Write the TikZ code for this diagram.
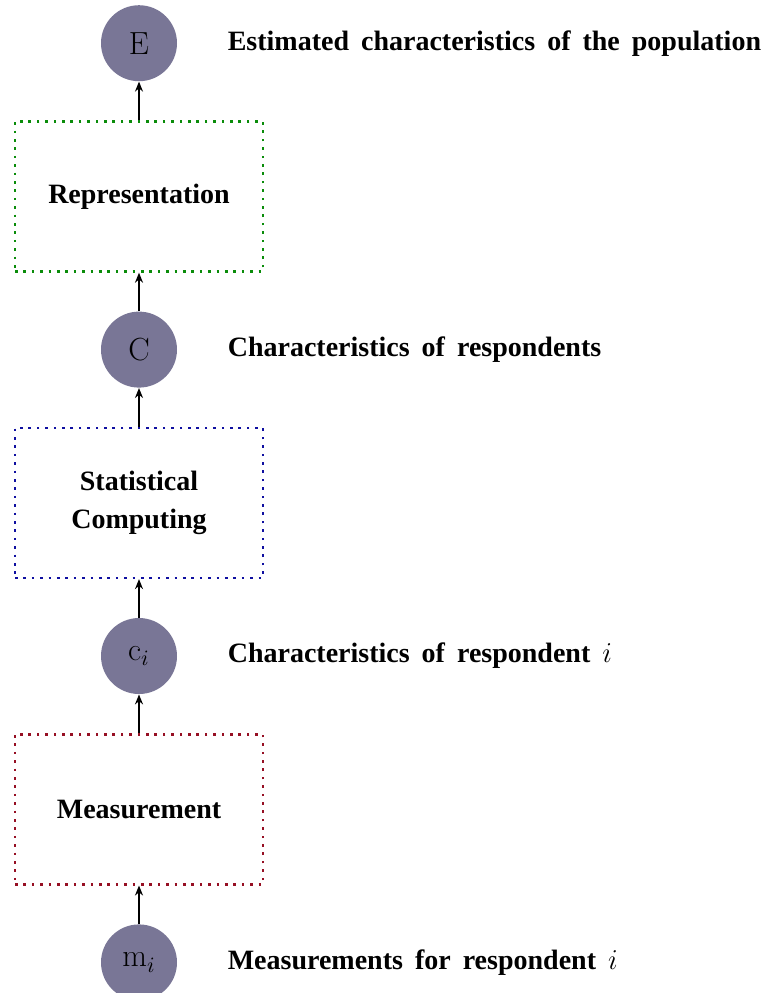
\documentclass[tikz,border=0pt]{standalone}
\usepackage{fontspec}
\newfontfamily\labelfont{Liberation Serif}
\usetikzlibrary{positioning,arrows.meta}

\definecolor{circlefill}{RGB}{121,118,150}
\definecolor{repgreen}{RGB}{10,140,10}
\definecolor{statblue}{RGB}{15,15,160}
\definecolor{measred}{RGB}{150,15,35}

\newcommand{\widespace}{\spaceskip=6pt plus 1pt\relax}

\tikzset{
    quantity/.style={circle, fill=circlefill, minimum size=38pt, inner sep=0pt, font=\fontsize{16}{19}\selectfont},
    stage/.style={draw, line width=1.3pt, dash pattern=on 1.3pt off 2.9pt, minimum width=124pt, minimum height=75pt, align=center, font=\labelfont\bfseries\fontsize{14}{19}\selectfont},
    caption/.style={inner sep=0pt, anchor=west, font=\labelfont\bfseries\fontsize{14}{16}\selectfont\widespace},
    flow/.style={-{Stealth[length=5pt,width=4pt]}, line width=0.8pt}
}

\begin{document}
\begin{tikzpicture}[node distance=19.25pt]
        \useasboundingbox (0,0) rectangle (381.5pt,-496.5pt);

        % Quantities and stages, from bottom to top
        \node[quantity] (mi) at (69.5pt,-481.2pt) {m$_i$};
        \node[stage, measred, text=black, above=of mi] (meas) {Measurement};
        \node[quantity, above=of meas] (ci) {c$_i$};
        \node[stage, statblue, text=black, above=of ci] (stat) {Statistical\\Computing};
        \node[quantity, above=of stat] (C) {C};
        \node[stage, repgreen, text=black, above=of C] (rep) {Representation};
        \node[quantity, above=of rep] (E) {E};

        % Descriptions
        \node[caption, right=25pt of E] (capE) {Estimated characteristics of the population};
        \node[caption, right=25pt of C] (capC) {Characteristics of respondents};
        \node[caption, right=25pt of ci] (capci) {Characteristics of respondent $i$};
        \node[caption, right=25pt of mi] (capmi) {Measurements for respondent $i$};

        % Arrows
        \draw[flow] (mi) -- (meas);
        \draw[flow] (meas) -- (ci);
        \draw[flow] (ci) -- (stat);
        \draw[flow] (stat) -- (C);
        \draw[flow] (C) -- (rep);
        \draw[flow] (rep) -- (E);

    \end{tikzpicture}
\end{document}
